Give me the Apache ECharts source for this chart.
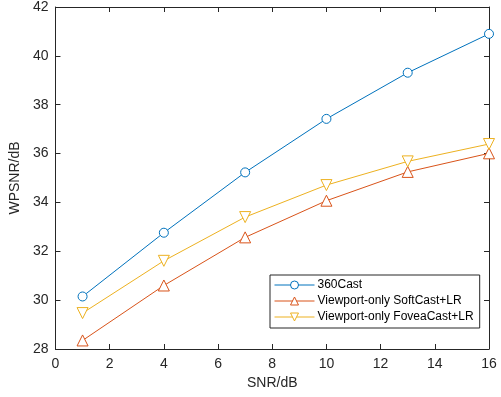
<!DOCTYPE html>
<html><head><meta charset="utf-8">
<script src="https://cdn.jsdelivr.net/npm/echarts@6/dist/echarts.min.js"></script>
<style>html,body{margin:0;padding:0;background:#fff}#c{width:501px;height:397px}</style>
</head><body><div id="c"></div>
<script>
const snr = [1, 4, 7, 10, 13, 16];
const cast360 = [30.15, 32.76, 35.23, 37.42, 39.31, 40.9];
const softLR = [28.35, 30.6, 32.57, 34.07, 35.25, 36.01];
const foveaLR = [29.47, 31.61, 33.4, 34.71, 35.68, 36.39];
const names = ['360Cast', 'Viewport-only SoftCast+LR', 'Viewport-only FoveaCast+LR'];
const colors = ['#0072BD', '#D95319', '#EDB120'];
const font = 'Liberation Sans, Arial, Helvetica, sans-serif';
const axCol = '#262626';

const chart = echarts.init(document.getElementById('c'), null, {renderer: 'canvas'});
const pair = (ys) => snr.map((x, i) => [x, ys[i]]);
const baseAxis = {
  axisLine: {show: true, onZero: false, lineStyle: {color: axCol, width: 1}},
  axisTick: {show: true, inside: true, length: 5, lineStyle: {color: axCol}},
  splitLine: {show: false}
};
chart.setOption({
  animation: false,
  backgroundColor: '#fff',
  grid: {left: 55, right: 12, top: 6, bottom: 48},
  xAxis: [
    Object.assign({type: 'value', min: 0, max: 16, interval: 2, position: 'bottom',
      name: 'SNR/dB', nameLocation: 'middle', nameGap: 26,
      nameTextStyle: {fontFamily: font, fontSize: 14, color: axCol},
      axisLabel: {fontFamily: font, fontSize: 14, color: axCol, margin: 8}}, baseAxis),
    Object.assign({type: 'value', min: 0, max: 16, interval: 2, position: 'top',
      axisLabel: {show: false}}, baseAxis)
  ],
  yAxis: [
    Object.assign({type: 'value', min: 28, max: 42, interval: 2, position: 'left',
      name: 'WPSNR/dB', nameLocation: 'middle', nameGap: 29,
      nameTextStyle: {fontFamily: font, fontSize: 14, color: axCol},
      axisLabel: {fontFamily: font, fontSize: 14, color: axCol, margin: 7}}, baseAxis),
    Object.assign({type: 'value', min: 28, max: 42, interval: 2, position: 'right',
      axisLabel: {show: false}}, baseAxis)
  ],
  legend: {
    orient: 'vertical', left: 270, top: 275,
    width: 208,
    padding: [4, 6, 5, 4],
    itemGap: 4, itemWidth: 40, itemHeight: 10,
    borderColor: axCol, borderWidth: 1, borderRadius: 0,
    backgroundColor: '#fff',
    itemStyle: {borderWidth: 1},
    lineStyle: {width: 1},
    textStyle: {fontFamily: font, fontSize: 12, color: '#000', padding: [0, 0, 0, -2]},
    data: names
  },
  series: [
    {name: names[0], type: 'line', data: pair(cast360), symbol: 'circle', symbolSize: 9,
      lineStyle: {color: colors[0], width: 1}, itemStyle: {color: '#fff', borderColor: colors[0], borderWidth: 1}},
    {name: names[1], type: 'line', data: pair(softLR), symbol: 'triangle', symbolSize: 11,
      lineStyle: {color: colors[1], width: 1}, itemStyle: {color: '#fff', borderColor: colors[1], borderWidth: 1}},
    {name: names[2], type: 'line', data: pair(foveaLR), symbol: 'triangle', symbolRotate: 180, symbolSize: 11,
      lineStyle: {color: colors[2], width: 1}, itemStyle: {color: '#fff', borderColor: colors[2], borderWidth: 1}}
  ]
});
</script></body></html>
